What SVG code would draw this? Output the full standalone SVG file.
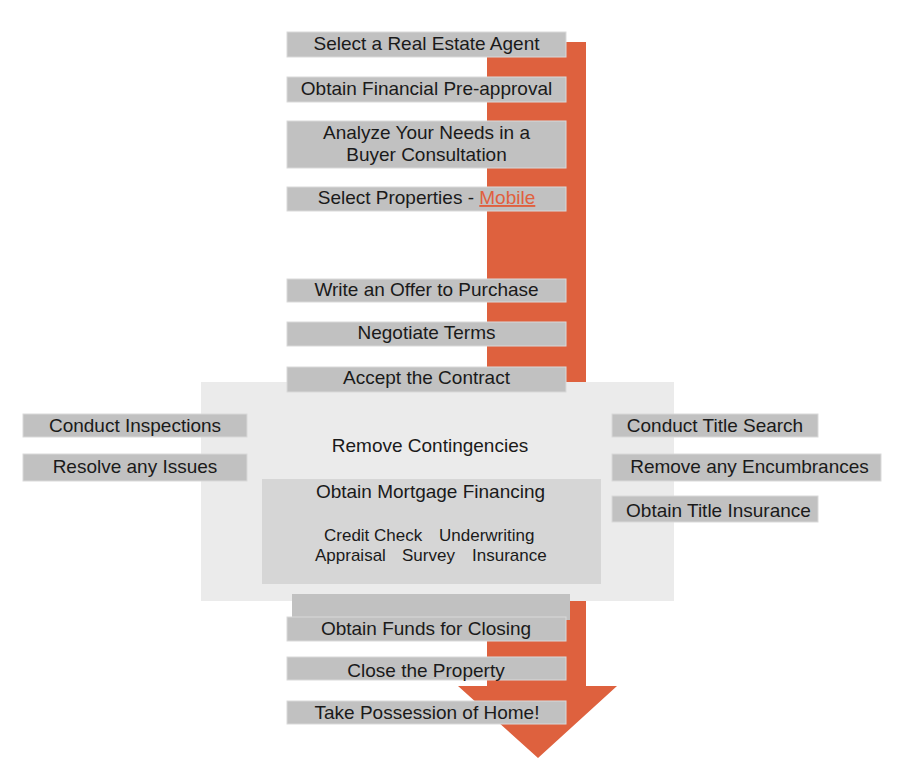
<svg xmlns="http://www.w3.org/2000/svg" width="898" height="772" viewBox="0 0 898 772">
<style>
.box{fill:#c1c1c1;stroke:#d9d9d9;stroke-width:1}
.t{font-family:"Liberation Sans",Arial,sans-serif;font-size:19px;fill:#1a1a1a;text-anchor:middle}
.s{font-family:"Liberation Sans",Arial,sans-serif;font-size:17px;fill:#1a1a1a}
.lnk{fill:#e0603e;text-decoration:underline}
</style>
<rect width="898" height="772" fill="#ffffff"/>
<g id="connectors">
<path d="M487 42 H586 V686 H617 L538 758 L458 686 H487 Z" fill="#de613e"/>
</g>
<g id="contingencies">
<rect x="201" y="382" width="473" height="219" fill="#ebebeb"/>
<text class="t" x="430" y="452">Remove Contingencies</text>
</g>
<g id="mortgage">
<rect x="262" y="479" width="339" height="105" fill="#d6d6d6"/>
<text class="t" x="430.5" y="498">Obtain Mortgage Financing</text>
<text class="s" x="324" y="541">Credit Check</text>
<text class="s" x="439" y="541">Underwriting</text>
<text class="s" x="315" y="561">Appraisal</text>
<text class="s" x="402" y="561">Survey</text>
<text class="s" x="472" y="561">Insurance</text>
</g>
<g id="agent"><rect class="box" x="287" y="32" width="279" height="25"/><text class="t" x="426.5" y="50">Select a Real Estate Agent</text></g>
<g id="preapproval"><rect class="box" x="287" y="77" width="279" height="25"/><text class="t" x="426.5" y="95">Obtain Financial Pre-approval</text></g>
<g id="analyze"><rect class="box" x="287" y="121" width="279" height="47"/><text class="t" x="426.5" y="139">Analyze Your Needs in a</text><text class="t" x="426.5" y="161">Buyer Consultation</text></g>
<g id="properties"><rect class="box" x="287" y="187" width="279" height="24"/><text class="t" x="426.5" y="204">Select Properties - <tspan class="lnk">Mobile</tspan></text></g>
<g id="offer"><rect class="box" x="287" y="279" width="279" height="23"/><text class="t" x="426.5" y="296">Write an Offer to Purchase</text></g>
<g id="negotiate"><rect class="box" x="287" y="322" width="279" height="24"/><text class="t" x="426.5" y="339">Negotiate Terms</text></g>
<g id="accept"><rect class="box" x="287" y="367" width="279" height="25"/><text class="t" x="426.5" y="384">Accept the Contract</text></g>
<g id="inspections"><rect class="box" x="23" y="414" width="224" height="23"/><text class="t" x="135" y="432">Conduct Inspections</text></g>
<g id="issues"><rect class="box" x="23" y="454" width="224" height="27"/><text class="t" x="135" y="473">Resolve any Issues</text></g>
<g id="titlesearch"><rect class="box" x="612" y="414" width="206" height="23"/><text class="t" x="715" y="432">Conduct Title Search</text></g>
<g id="encumbrances"><rect class="box" x="612" y="454" width="269" height="27"/><text class="t" x="749.5" y="473">Remove any Encumbrances</text></g>
<g id="titleinsurance"><rect class="box" x="612" y="496" width="206" height="26"/><text class="t" x="718.5" y="517">Obtain Title Insurance</text></g>
<g id="funds"><rect x="292" y="594" width="278" height="26" fill="#c1c1c1"/><rect class="box" x="287" y="617" width="279" height="24"/><text class="t" x="426" y="635">Obtain Funds for Closing</text></g>
<g id="close"><rect class="box" x="287" y="657" width="279" height="23"/><text class="t" x="426" y="677">Close the Property</text></g>
<g id="possession"><rect class="box" x="287" y="701" width="279" height="23"/><text class="t" x="427" y="719">Take Possession of Home!</text></g>
</svg>
